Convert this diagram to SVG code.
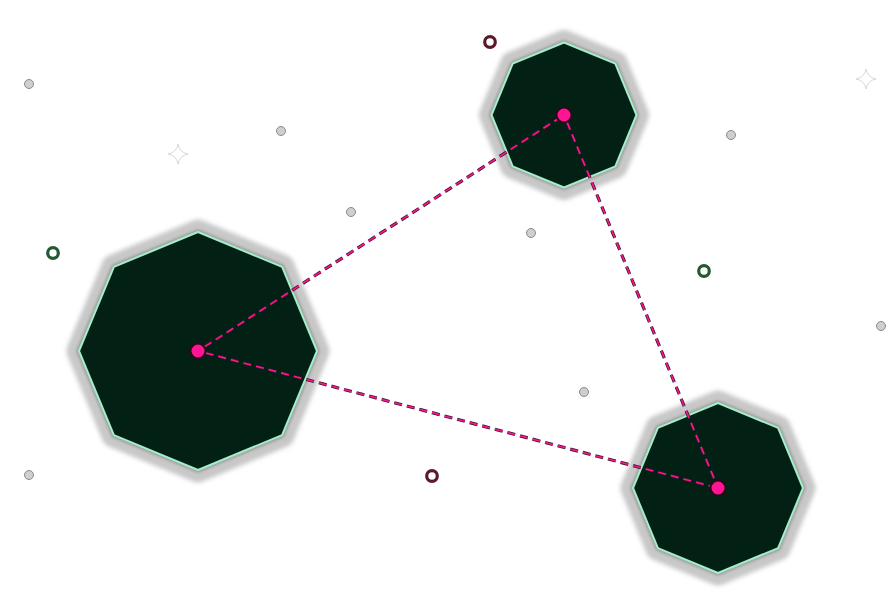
<svg xmlns="http://www.w3.org/2000/svg" width="896" height="594" viewBox="0 0 896 594">
<defs>
<filter id="blur" x="-20%" y="-20%" width="140%" height="140%"><feGaussianBlur stdDeviation="2"/></filter>
<filter id="blur2" x="-20%" y="-20%" width="140%" height="140%"><feGaussianBlur stdDeviation="1.5"/></filter>
<path id="spark" d="M0,-10 Q1.5,-1.5 10,0 Q1.5,1.5 0,10 Q-1.5,1.5 -10,0 Q-1.5,-1.5 0,-10Z"/>
</defs>
<style>
.halo{fill:#c8c8c8;stroke:#c8c8c8;stroke-width:25;stroke-linejoin:round;filter:url(#blur)}
.shade{fill:none;stroke:#999;stroke-width:5;stroke-linejoin:round;filter:url(#blur2)}
.oct{fill:#022114;stroke:#a3efc9;stroke-width:2;stroke-linejoin:round}
.hub{fill:#ff1493;stroke:#2a0a18;stroke-width:2}
.under{stroke:#3a1a2a;stroke-width:3.2;stroke-dasharray:8 5;fill:none}
.over{stroke:#ff1493;stroke-width:1.6;stroke-dasharray:8 5;fill:none}
.dot{fill:#cfcfcf;stroke:#8a8a8a;stroke-width:1}
.ringR{fill:none;stroke:#5a1a2a;stroke-width:3.2}
.ringG{fill:none;stroke:#235a32;stroke-width:3.2}
.spark{fill:#fff;stroke:#d8d8d8;stroke-width:1}
</style>
<rect width="896" height="594" fill="#fff"/>
<g id="background">
<circle class="dot" cx="29" cy="84" r="4.5"/>
<circle class="dot" cx="281" cy="131" r="4.5"/>
<circle class="dot" cx="351" cy="212" r="4.5"/>
<circle class="dot" cx="531" cy="233" r="4.5"/>
<circle class="dot" cx="731" cy="135" r="4.5"/>
<circle class="dot" cx="881" cy="326" r="4.5"/>
<circle class="dot" cx="584" cy="392" r="4.5"/>
<circle class="dot" cx="29" cy="475" r="4.5"/>
<circle class="ringR" cx="490" cy="42" r="5.3"/>
<circle class="ringR" cx="432" cy="476" r="5.3"/>
<circle class="ringG" cx="53" cy="253" r="5.3"/>
<circle class="ringG" cx="704" cy="271" r="5.3"/>
<use href="#spark" class="spark" x="178" y="154"/>
<use href="#spark" class="spark" x="866" y="79"/>
</g>
<g id="node-a">
<polygon class="halo" points="198,232 282.1,266.9 317,351 282.1,435.1 198,470 113.9,435.1 79,351 113.9,266.9"/>
<polygon class="shade" points="198,232 282.1,266.9 317,351 282.1,435.1 198,470 113.9,435.1 79,351 113.9,266.9"/>
<polygon class="oct" points="198,232 282.1,266.9 317,351 282.1,435.1 198,470 113.9,435.1 79,351 113.9,266.9"/>
</g>
<g id="node-b">
<polygon class="halo" points="564,42.5 615.3,63.7 636.5,115 615.3,166.3 564,187.5 512.7,166.3 491.5,115 512.7,63.7"/>
<polygon class="shade" points="564,42.5 615.3,63.7 636.5,115 615.3,166.3 564,187.5 512.7,166.3 491.5,115 512.7,63.7"/>
<polygon class="oct" points="564,42.5 615.3,63.7 636.5,115 615.3,166.3 564,187.5 512.7,166.3 491.5,115 512.7,63.7"/>
</g>
<g id="node-c">
<polygon class="halo" points="718,403 778.1,427.9 803,488 778.1,548.1 718,573 657.9,548.1 633,488 657.9,427.9"/>
<polygon class="shade" points="718,403 778.1,427.9 803,488 778.1,548.1 718,573 657.9,548.1 633,488 657.9,427.9"/>
<polygon class="oct" points="718,403 778.1,427.9 803,488 778.1,548.1 718,573 657.9,548.1 633,488 657.9,427.9"/>
</g>
<g id="connectors">
<line class="under" x1="204.7" y1="346.7" x2="557.3" y2="119.3"/>
<line class="over" x1="204.7" y1="346.7" x2="557.3" y2="119.3"/>
<line class="under" x1="567.1" y1="122.4" x2="714.9" y2="480.6"/>
<line class="over" x1="567.1" y1="122.4" x2="714.9" y2="480.6"/>
<line class="under" x1="205.7" y1="353" x2="710.3" y2="486"/>
<line class="over" x1="205.7" y1="353" x2="710.3" y2="486"/>
</g>
<g id="hub-a"><circle class="hub" cx="198" cy="351" r="7.5"/></g>
<g id="hub-b"><circle class="hub" cx="564" cy="115" r="7.5"/></g>
<g id="hub-c"><circle class="hub" cx="718" cy="488" r="7.5"/></g>
</svg>
